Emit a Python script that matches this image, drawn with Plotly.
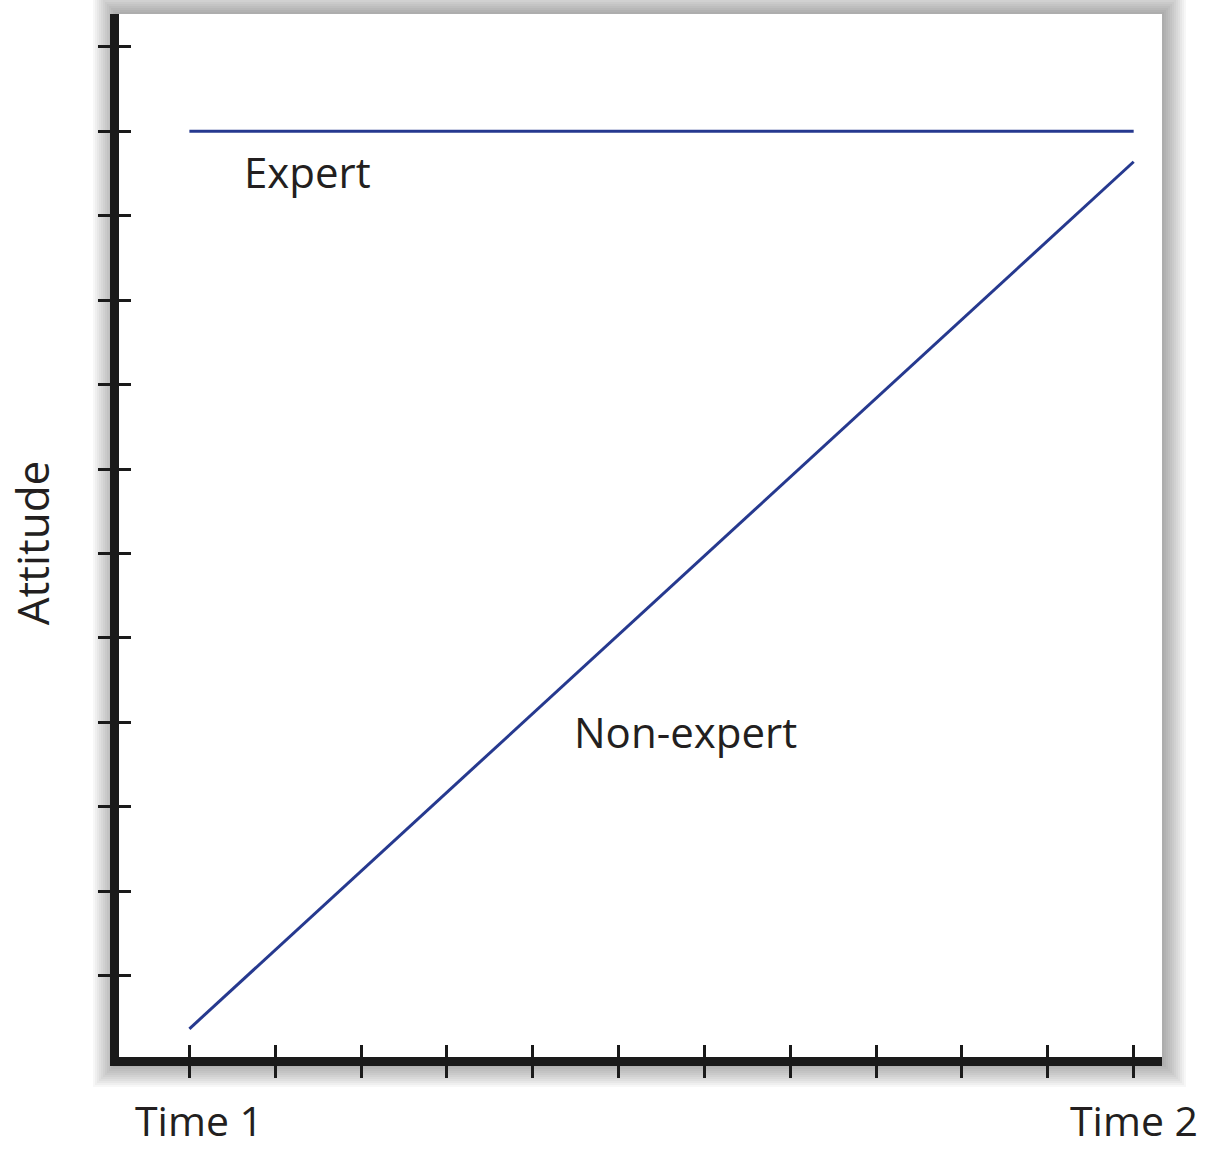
import plotly.graph_objects as go

# ---- data ----
time_steps = list(range(12))
time_labels = ["Time 1", "", "", "", "", "", "", "", "", "", "", "Time 2"]
attitude_ticks = list(range(1, 13))

expert_x = [0, 11]
expert_y = [11.0, 11.0]
nonexpert_x = [0, 11]
nonexpert_y = [0.37, 10.64]

label_names = ["Expert", "Non-expert"]
label_x = [1.37, 5.78]
label_y = [10.52, 3.89]

LINE_COLOR = "#26398f"
TEXT_COLOR = "#231f20"
AXIS_COLOR = "#1a1a1a"
FONT = "Open Sans"
XR = [-0.82, 11.33]
YR = [0.036, 12.39]

W, H = 1207, 1150
ML, MR, MT, MB = 118.5, 45, 14, 92.5
PW = W - ML - MR
PH = H - MT - MB

fig = go.Figure()
fig.add_trace(go.Scatter(x=expert_x, y=expert_y, mode="lines",
                         line=dict(color=LINE_COLOR, width=3), showlegend=False, hoverinfo="skip"))
fig.add_trace(go.Scatter(x=nonexpert_x, y=nonexpert_y, mode="lines",
                         line=dict(color=LINE_COLOR, width=3), showlegend=False, hoverinfo="skip"))
# dummy trace so the overlay axes (inner tick halves) are drawn
fig.add_trace(go.Scatter(x=[None], y=[None], xaxis="x2", yaxis="y2", showlegend=False, hoverinfo="skip"))

for name, x, y in zip(label_names, label_x, label_y):
    fig.add_annotation(x=x, y=y, text=name, showarrow=False,
                       font=dict(family=FONT, size=42, color=TEXT_COLOR))

# x tick labels (only first and last are labelled)
for i, (t, lab) in enumerate(zip(time_steps, time_labels)):
    if lab:
        fig.add_annotation(x=t, xref="x", y=0, yref="paper", yanchor="top", yshift=-33,
                           xshift=10 if i == 0 else 0,
                           text=lab, showarrow=False,
                           font=dict(family=FONT, size=41, color=TEXT_COLOR))

fig.add_annotation(xref="paper", yref="paper", x=(31 - ML) / PW, y=(H - MB - 543) / PH, text="Attitude",
                   textangle=-90, showarrow=False, xanchor="center", yanchor="middle",
                   font=dict(family=FONT, size=44, color=TEXT_COLOR))

# soft shadow around the white panel
shapes = []
n = 12
for i in range(n, 0, -1):
    d = i * 2
    shapes.append(dict(type="rect", xref="paper", yref="paper", layer="below",
                       x0=-(d + 2) / PW, x1=1 + d / PW, y0=-(d + 6) / PH, y1=1 + d / PH,
                       fillcolor="rgba(60,60,60,0.04)", line=dict(width=0)))
shapes.append(dict(type="rect", xref="paper", yref="paper", layer="below",
                   x0=0, x1=1, y0=0, y1=1, fillcolor="white", line=dict(width=0)))

axis_common = dict(showgrid=False, zeroline=False, ticklen=12, tickwidth=3, tickcolor=AXIS_COLOR,
                   automargin=False)
fig.update_layout(
    width=W, height=H,
    margin=dict(l=ML, r=MR, t=MT, b=MB, pad=0),
    paper_bgcolor="white", plot_bgcolor="rgba(0,0,0,0)",
    shapes=shapes,
    xaxis=dict(range=XR, tickvals=time_steps, showticklabels=False, ticks="outside",
               showline=True, linewidth=9, linecolor=AXIS_COLOR, **axis_common),
    yaxis=dict(range=YR, tickvals=attitude_ticks, showticklabels=False, ticks="outside",
               showline=True, linewidth=9, linecolor=AXIS_COLOR, **axis_common),
    xaxis2=dict(range=XR, tickvals=time_steps, showticklabels=False, ticks="inside",
                overlaying="x", anchor="y2", side="bottom", showline=False, **axis_common),
    yaxis2=dict(range=YR, tickvals=attitude_ticks, showticklabels=False, ticks="inside",
                overlaying="y", anchor="x2", side="left", showline=False, **axis_common),
)

fig.write_html("out.html", config={"displayModeBar": False},
               post_script="document.body.style.margin='0';")
